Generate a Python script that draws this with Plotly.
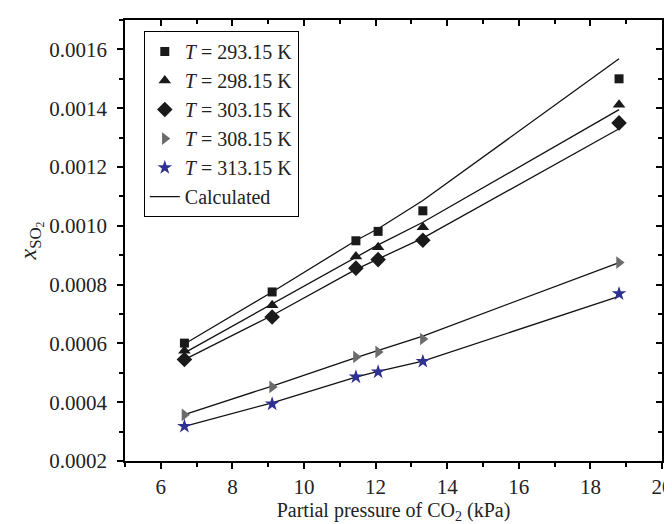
import plotly.graph_objects as go

pressure = [6.66, 9.11, 11.45, 12.07, 13.32, 18.8]

exp_293 = [0.000601, 0.000775, 0.000949, 0.000981, 0.001051, 0.00150]
exp_298 = [0.000575, 0.000730, 0.000896, 0.000927, 0.000995, 0.001412]
exp_303 = [0.000545, 0.000690, 0.000856, 0.000885, 0.000951, 0.00135]
exp_308 = [0.000357, 0.000452, 0.000554, 0.000571, 0.000615, 0.000875]
exp_313 = [0.000318, 0.000394, 0.000486, 0.000503, 0.000539, 0.000769]

calc_293 = [0.000598, 0.000775, 0.000950, 0.000990, 0.001086, 0.001568]
calc_298 = [0.000568, 0.000735, 0.000895, 0.000935, 0.001012, 0.001395]
calc_303 = [0.000545, 0.000695, 0.000852, 0.000888, 0.000958, 0.001330]
calc_308 = [0.000358, 0.000455, 0.000552, 0.000577, 0.000625, 0.000875]
calc_313 = [0.000318, 0.000398, 0.000485, 0.000505, 0.000540, 0.000760]

labels = ["<i>T</i> = 293.15 K", "<i>T</i> = 298.15 K", "<i>T</i> = 303.15 K",
          "<i>T</i> = 308.15 K", "<i>T</i> = 313.15 K"]
exp_series = [exp_293, exp_298, exp_303, exp_308, exp_313]
calc_series = [calc_293, calc_298, calc_303, calc_308, calc_313]
symbols = ["square", "triangle-up", "diamond", "triangle-right", "star"]
colors = ["#1a1a1a", "#1a1a1a", "#1a1a1a", "#6b6b6b", "#2e3192"]
sizes = [9, 11, 12, 11, 11]

FONT = "Liberation Serif, Times New Roman, serif"

fig = go.Figure()

for i, cs in enumerate(calc_series):
    fig.add_trace(go.Scatter(
        x=pressure, y=cs, mode="lines",
        line=dict(color="#111111", width=1.3),
        name="Calculated", showlegend=(i == 0), legendrank=10,
    ))

for i, es in enumerate(exp_series):
    fig.add_trace(go.Scatter(
        x=pressure, y=es, mode="markers",
        marker=dict(symbol=symbols[i], size=sizes[i], color=colors[i], line=dict(width=0)),
        name=labels[i], legendrank=i + 1,
    ))

# invisible trace for mirrored inside-tick axes
fig.add_trace(go.Scatter(x=[5], y=[0.0002], xaxis="x2", yaxis="y2", mode="markers",
                         marker=dict(opacity=0), showlegend=False, hoverinfo="skip"))

axis_common = dict(showgrid=False, zeroline=False, showline=True, linecolor="black", linewidth=1.5,
                   tickcolor="black", tickwidth=1.5, ticklen=6, automargin=False,
                   ticklabeloverflow="allow",
                   tickfont=dict(family=FONT, size=21, color="#222"))

fig.update_layout(
    width=672, height=524,
    margin=dict(l=117, r=18, t=12, b=71),
    paper_bgcolor="white", plot_bgcolor="white",
    font=dict(family=FONT, size=20, color="#222"),
    xaxis=dict(range=[5, 20], tick0=6, dtick=2, ticks="outside",
               minor=dict(ticks="outside", dtick=1, tick0=5, ticklen=4, tickcolor="black", tickwidth=1.5),
               title=dict(text="Partial pressure of CO<sub>2</sub> (kPa)", font=dict(family=FONT, size=20), standoff=4),
               **axis_common),
    yaxis=dict(range=[0.0002, 0.0017], tick0=0.0002, dtick=0.0002, tickformat=".4f", ticks="outside",
               ticklabelstandoff=6,
               minor=dict(ticks="outside", dtick=0.0001, ticklen=4, tickcolor="black", tickwidth=1.5),
               title=dict(text="<i>x</i><sub>SO<sub>2</sub></sub>", font=dict(family=FONT, size=24), standoff=6),
               **axis_common),
    xaxis2=dict(range=[5, 20], overlaying="x", side="top", anchor="y", tick0=6, dtick=2, ticks="inside",
                showticklabels=False, showgrid=False, zeroline=False, showline=True, linecolor="black",
                linewidth=1.5, tickcolor="black", tickwidth=1.5, ticklen=6, automargin=False,
                minor=dict(ticks="inside", dtick=1, tick0=5, ticklen=4, tickcolor="black", tickwidth=1.5)),
    yaxis2=dict(range=[0.0002, 0.0017], overlaying="y", side="right", anchor="x", tick0=0.0002, dtick=0.0002,
                ticks="inside", showticklabels=False, showgrid=False, zeroline=False, showline=True,
                linecolor="black", linewidth=1.5, tickcolor="black", tickwidth=1.5, ticklen=6, automargin=False,
                minor=dict(ticks="inside", dtick=0.0001, ticklen=4, tickcolor="black", tickwidth=1.5)),
    legend=dict(x=0.035, y=0.975, xanchor="left", yanchor="top",
                bgcolor="white", bordercolor="black", borderwidth=1,
                font=dict(family=FONT, size=20, color="#222"),
                tracegroupgap=0, itemwidth=30),
    showlegend=True,
)

fig.write_html("out.html")
